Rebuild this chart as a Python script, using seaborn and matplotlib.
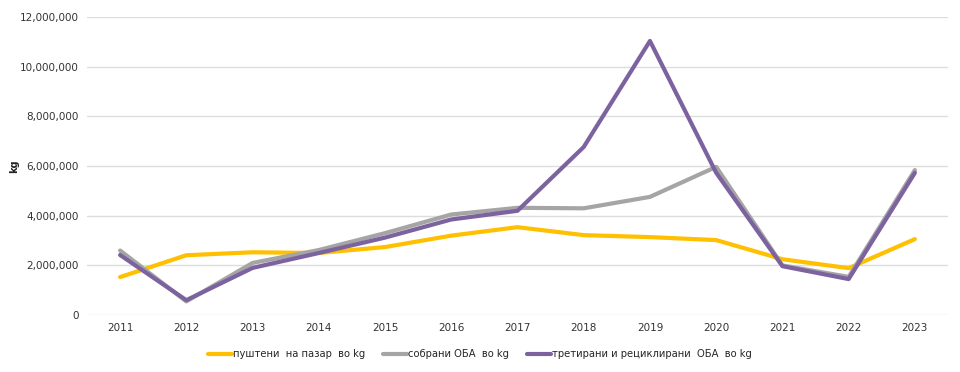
import matplotlib
matplotlib.use("Agg")
import matplotlib.pyplot as plt
import seaborn as sns
import pandas as pd
from matplotlib.ticker import FuncFormatter

years = [2011, 2012, 2013, 2014, 2015, 2016, 2017, 2018, 2019, 2020, 2021, 2022, 2023]
placed = [1530000, 2410000, 2530000, 2500000, 2740000, 3200000, 3540000, 3220000, 3140000, 3020000, 2250000, 1890000, 3060000]
collected = [2600000, 550000, 2100000, 2620000, 3300000, 4050000, 4320000, 4300000, 4760000, 5970000, 2000000, 1540000, 5840000]
treated = [2420000, 600000, 1900000, 2500000, 3120000, 3850000, 4200000, 6770000, 11040000, 5730000, 1970000, 1450000, 5730000]
series_names = ["пуштени  на пазар  во kg", "собрани ОБА  во kg", "третирани и рециклирани  ОБА  во kg"]
colors = ["#FFC000", "#A5A5A5", "#7D62A0"]

df = pd.concat([
    pd.DataFrame({"year": years, "value": vals, "series": name})
    for name, vals in zip(series_names, [placed, collected, treated])
])

sns.set_theme(style="white")
plt.rcParams["font.family"] = ["DejaVu Sans"]

fig = plt.figure(figsize=(9.6, 3.72), dpi=100)
ax = fig.add_axes([0.0906, 0.153, 0.8969, 0.801])

sns.lineplot(data=df, x="year", y="value", hue="series", palette=colors,
             linewidth=3.0, ax=ax, legend=True, sort=False)

ax.set_xlim(2010.5, 2023.5)
ax.set_ylim(0, 12000000)
ax.set_yticks(range(0, 12000001, 2000000))
ax.set_xticks(years)
ax.yaxis.set_major_formatter(FuncFormatter(lambda v, p: f"{int(v):,}"))
ax.tick_params(axis="both", labelsize=7.5, colors="#333333", length=0, pad=6)
ax.grid(axis="y", color="#DDDDDD", linewidth=1)
ax.set_axisbelow(True)
for s in ax.spines.values():
    s.set_visible(False)
ax.set_xlabel("")
ax.set_ylabel("")
fig.text(14 / 960, 1 - 166 / 372, "kg", rotation=90, fontsize=7, fontweight="bold",
         ha="center", va="center", color="#222222")

handles, labels = ax.get_legend_handles_labels()
ax.get_legend().remove()
fig.legend(handles, labels, loc="center", bbox_to_anchor=(0.5, 1 - 354 / 372), ncol=3,
           frameon=False, fontsize=7.2, handlelength=2.4, handletextpad=0.1,
           columnspacing=1.8, borderaxespad=0)

fig.savefig("out.png", dpi=100)
